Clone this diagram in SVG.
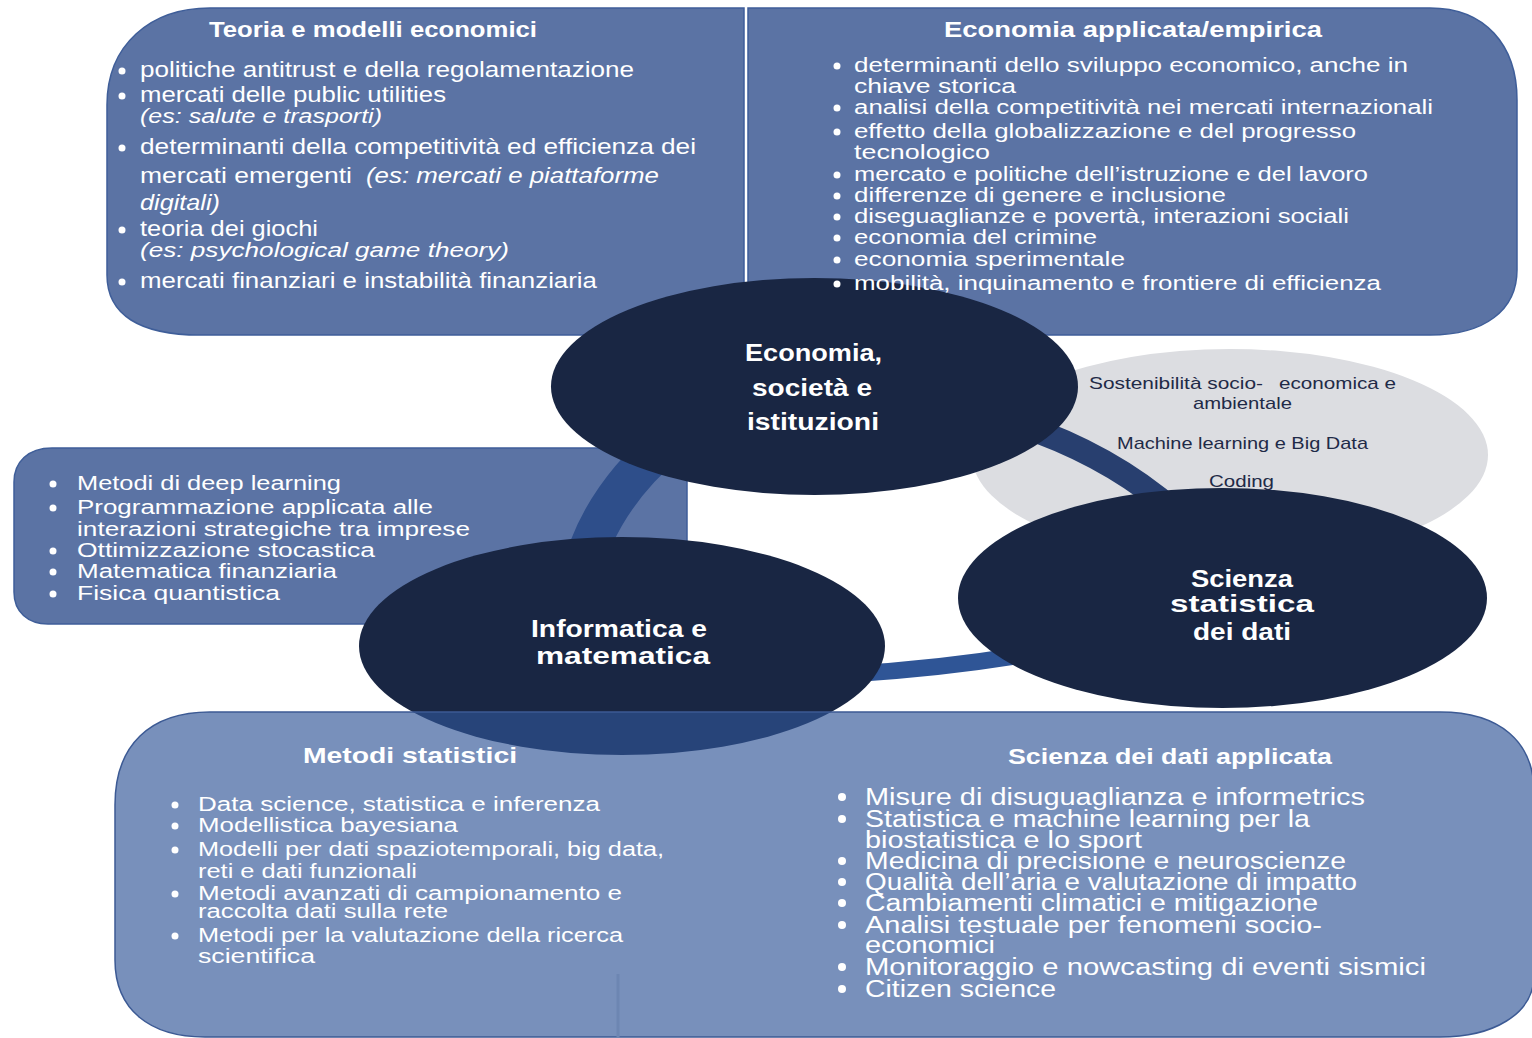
<svg xmlns="http://www.w3.org/2000/svg" width="1532" height="1038" viewBox="0 0 1532 1038">
<style>
.panel{fill:#5B73A4;stroke:#3F5E99;stroke-width:1.5}
.panel2{fill:#2F5597;fill-opacity:0.65;stroke:#3C5A94;stroke-width:1.5}
.node{fill:#192643}
.t{font-family:"Liberation Sans",Arial,sans-serif;fill:#ffffff;font-size:22px}
.s{font-size:20px}
.tb{font-size:23px}
.h{font-weight:bold;font-size:22px}
.i{font-style:italic}
.n{font-family:"Liberation Sans",Arial,sans-serif;font-weight:bold;fill:#ffffff;font-size:24px}
.g{font-family:"Liberation Sans",Arial,sans-serif;fill:#1F2A47;font-size:17px}
.dot{fill:#ffffff}
.ring{fill:none;stroke-linecap:butt}
</style>

<!-- panel backgrounds -->
<g id="panel-shapes">
  <path id="shape-teoria" class="panel" d="M 744 8 L 210 8 C 150 8 107 45 107 105 L 107 275 C 107 315 140 335 200 335 L 744 335 Z"/>
  <path id="shape-applicata" class="panel" d="M 748 8 L 1430 8 C 1485 8 1517 45 1517 100 L 1517 270 C 1517 310 1485 335 1430 335 L 748 335 Z"/>
  <path id="shape-informatica-list" class="panel" d="M 687 448 L 52 448 C 28 448 14 462 14 482 L 14 592 C 14 612 28 624 48 624 L 687 624 Z"/>
  <ellipse id="shape-grey" cx="1230" cy="455" rx="258" ry="106" fill="#DCDDE1"/>
</g>

<!-- connectors (ring) -->
<g id="connectors">
  <path class="ring" d="M 580 578 Q 598 500 670 440" stroke="#2E4E8A" stroke-width="40"/>
  <path class="ring" d="M 1020 425 Q 1110 455 1175 512" stroke="#283F6F" stroke-width="24"/>
  <path class="ring" d="M 850 674 Q 950 668 1040 652" stroke="#2F5596" stroke-width="17"/>
</g>

<!-- ellipse nodes -->
<g id="node-economia">
  <ellipse class="node" cx="814.5" cy="386.5" rx="263.5" ry="108.5"/>
  <text class="n" x="745" y="361" textLength="137" lengthAdjust="spacingAndGlyphs">Economia,</text>
  <text class="n" x="752" y="396" textLength="120" lengthAdjust="spacingAndGlyphs">società e</text>
  <text class="n" x="747" y="430" textLength="132" lengthAdjust="spacingAndGlyphs">istituzioni</text>
</g>
<g id="node-informatica">
  <ellipse class="node" cx="622" cy="646" rx="263" ry="109"/>
  <text class="n" x="531" y="637" textLength="176" lengthAdjust="spacingAndGlyphs">Informatica e</text>
  <text class="n" x="536" y="664" textLength="174" lengthAdjust="spacingAndGlyphs">matematica</text>
</g>
<g id="node-scienza">
  <ellipse class="node" cx="1222.5" cy="598" rx="264.5" ry="110"/>
  <text class="n" x="1191" y="587" textLength="102" lengthAdjust="spacingAndGlyphs">Scienza</text>
  <text class="n" x="1170" y="612" textLength="144" lengthAdjust="spacingAndGlyphs">statistica</text>
  <text class="n" x="1193" y="640" textLength="98" lengthAdjust="spacingAndGlyphs">dei dati</text>
</g>

<!-- bottom panel (semi-transparent, over the Informatica ellipse) -->
<g id="panel-bottom-shape">
  <path class="panel2" d="M 210 712 L 1440 712 C 1500 712 1534 742 1534 792 L 1534 975 C 1534 1015 1492 1037 1440 1037 L 205 1037 C 150 1037 115 1010 115 960 L 115 805 C 115 745 150 712 210 712 Z"/>
  <line x1="618" y1="974" x2="618" y2="1038" stroke="#6D86B2" stroke-width="3"/>
</g>

<!-- grey node texts -->
<g id="node-competenze">
  <text class="g" y="389"><tspan x="1089" textLength="174" lengthAdjust="spacingAndGlyphs">Sostenibilità socio-</tspan><tspan x="1279" textLength="117" lengthAdjust="spacingAndGlyphs">economica e</tspan></text>
  <text class="g" x="1193" y="409" textLength="99" lengthAdjust="spacingAndGlyphs">ambientale</text>
  <text class="g" x="1117" y="449" textLength="251" lengthAdjust="spacingAndGlyphs">Machine learning e Big Data</text>
  <text class="g" x="1209" y="487" textLength="65" lengthAdjust="spacingAndGlyphs">Coding</text>
</g>

<!-- panel texts -->
<g id="panel-teoria">
  <text class="t h" x="209" y="37" textLength="328" lengthAdjust="spacingAndGlyphs">Teoria e modelli economici</text>
  <circle class="dot" cx="122" cy="71" r="3.5"/>
  <circle class="dot" cx="122" cy="96" r="3.5"/>
  <circle class="dot" cx="122" cy="148" r="3.5"/>
  <circle class="dot" cx="122" cy="230" r="3.5"/>
  <circle class="dot" cx="122" cy="282" r="3.5"/>
  <text class="t" x="140" y="77" textLength="494" lengthAdjust="spacingAndGlyphs">politiche antitrust e della regolamentazione</text>
  <text class="t" x="140" y="102" textLength="306" lengthAdjust="spacingAndGlyphs">mercati delle public utilities</text>
  <text class="t i s" x="140" y="123" textLength="242" lengthAdjust="spacingAndGlyphs">(es: salute e trasporti)</text>
  <text class="t" x="140" y="154" textLength="556" lengthAdjust="spacingAndGlyphs">determinanti della competitività ed efficienza dei</text>
  <text class="t" y="183"><tspan x="140" textLength="212" lengthAdjust="spacingAndGlyphs">mercati emergenti</tspan><tspan class="i" x="366" textLength="293" lengthAdjust="spacingAndGlyphs">(es: mercati e piattaforme</tspan></text>
  <text class="t i" x="140" y="210" textLength="80" lengthAdjust="spacingAndGlyphs">digitali)</text>
  <text class="t" x="140" y="236" textLength="178" lengthAdjust="spacingAndGlyphs">teoria dei giochi</text>
  <text class="t i s" x="140" y="257" textLength="369" lengthAdjust="spacingAndGlyphs">(es: psychological game theory)</text>
  <text class="t" x="140" y="288" textLength="457" lengthAdjust="spacingAndGlyphs">mercati finanziari e instabilità finanziaria</text>
</g>

<g id="panel-applicata">
  <text class="t h" x="944" y="37" textLength="378" lengthAdjust="spacingAndGlyphs">Economia applicata/empirica</text>
  <circle class="dot" cx="837" cy="66" r="3.5"/>
  <circle class="dot" cx="837" cy="108" r="3.5"/>
  <circle class="dot" cx="837" cy="132" r="3.5"/>
  <circle class="dot" cx="837" cy="175" r="3.5"/>
  <circle class="dot" cx="837" cy="196" r="3.5"/>
  <circle class="dot" cx="837" cy="217" r="3.5"/>
  <circle class="dot" cx="837" cy="238" r="3.5"/>
  <circle class="dot" cx="837" cy="260" r="3.5"/>
  <circle class="dot" cx="837" cy="284" r="3.5"/>
  <text class="t s" x="854" y="72" textLength="554" lengthAdjust="spacingAndGlyphs">determinanti dello sviluppo economico, anche in</text>
  <text class="t s" x="854" y="93" textLength="162" lengthAdjust="spacingAndGlyphs">chiave storica</text>
  <text class="t s" x="854" y="114" textLength="579" lengthAdjust="spacingAndGlyphs">analisi della competitività nei mercati internazionali</text>
  <text class="t s" x="854" y="138" textLength="502" lengthAdjust="spacingAndGlyphs">effetto della globalizzazione e del progresso</text>
  <text class="t s" x="854" y="159" textLength="136" lengthAdjust="spacingAndGlyphs">tecnologico</text>
  <text class="t s" x="854" y="181" textLength="514" lengthAdjust="spacingAndGlyphs">mercato e politiche dell’istruzione e del lavoro</text>
  <text class="t s" x="854" y="202" textLength="372" lengthAdjust="spacingAndGlyphs">differenze di genere e inclusione</text>
  <text class="t s" x="854" y="223" textLength="495" lengthAdjust="spacingAndGlyphs">diseguaglianze e povertà, interazioni sociali</text>
  <text class="t s" x="854" y="244" textLength="243" lengthAdjust="spacingAndGlyphs">economia del crimine</text>
  <text class="t s" x="854" y="266" textLength="271" lengthAdjust="spacingAndGlyphs">economia sperimentale</text>
  <text class="t s" x="854" y="290" textLength="527" lengthAdjust="spacingAndGlyphs">mobilità, inquinamento e frontiere di efficienza</text>
</g>

<g id="panel-informatica">
  <circle class="dot" cx="53" cy="484" r="3.5"/>
  <circle class="dot" cx="53" cy="508" r="3.5"/>
  <circle class="dot" cx="53" cy="551" r="3.5"/>
  <circle class="dot" cx="53" cy="572" r="3.5"/>
  <circle class="dot" cx="53" cy="594" r="3.5"/>
  <text class="t s" x="77" y="490" textLength="264" lengthAdjust="spacingAndGlyphs">Metodi di deep learning</text>
  <text class="t s" x="77" y="514" textLength="356" lengthAdjust="spacingAndGlyphs">Programmazione applicata alle</text>
  <text class="t s" x="77" y="536" textLength="393" lengthAdjust="spacingAndGlyphs">interazioni strategiche tra imprese</text>
  <text class="t s" x="77" y="557" textLength="298" lengthAdjust="spacingAndGlyphs">Ottimizzazione stocastica</text>
  <text class="t s" x="77" y="578" textLength="260" lengthAdjust="spacingAndGlyphs">Matematica finanziaria</text>
  <text class="t s" x="77" y="600" textLength="203" lengthAdjust="spacingAndGlyphs">Fisica quantistica</text>
</g>

<g id="panel-metodi">
  <text class="t h" x="303" y="763" textLength="214" lengthAdjust="spacingAndGlyphs">Metodi statistici</text>
  <circle class="dot" cx="175" cy="805" r="3.5"/>
  <circle class="dot" cx="175" cy="826" r="3.5"/>
  <circle class="dot" cx="175" cy="850" r="3.5"/>
  <circle class="dot" cx="175" cy="894" r="3.5"/>
  <circle class="dot" cx="175" cy="936" r="3.5"/>
  <text class="t s" x="198" y="811" textLength="402" lengthAdjust="spacingAndGlyphs">Data science, statistica e inferenza</text>
  <text class="t s" x="198" y="832" textLength="260" lengthAdjust="spacingAndGlyphs">Modellistica bayesiana</text>
  <text class="t s" x="198" y="856" textLength="466" lengthAdjust="spacingAndGlyphs">Modelli per dati spaziotemporali, big data,</text>
  <text class="t s" x="198" y="878" textLength="219" lengthAdjust="spacingAndGlyphs">reti e dati funzionali</text>
  <text class="t s" x="198" y="900" textLength="424" lengthAdjust="spacingAndGlyphs">Metodi avanzati di campionamento e</text>
  <text class="t s" x="198" y="918" textLength="250" lengthAdjust="spacingAndGlyphs">raccolta dati sulla rete</text>
  <text class="t s" x="198" y="942" textLength="425" lengthAdjust="spacingAndGlyphs">Metodi per la valutazione della ricerca</text>
  <text class="t s" x="198" y="963" textLength="117" lengthAdjust="spacingAndGlyphs">scientifica</text>
</g>

<g id="panel-scienza-applicata">
  <text class="t h" x="1008" y="764" textLength="324" lengthAdjust="spacingAndGlyphs">Scienza dei dati applicata</text>
  <circle class="dot" cx="842" cy="797" r="4"/>
  <circle class="dot" cx="842" cy="819" r="4"/>
  <circle class="dot" cx="842" cy="861" r="4"/>
  <circle class="dot" cx="842" cy="882" r="4"/>
  <circle class="dot" cx="842" cy="903" r="4"/>
  <circle class="dot" cx="842" cy="925" r="4"/>
  <circle class="dot" cx="842" cy="967" r="4"/>
  <circle class="dot" cx="842" cy="989" r="4"/>
  <text class="t tb" x="865" y="805" textLength="500" lengthAdjust="spacingAndGlyphs">Misure di disuguaglianza e informetrics</text>
  <text class="t tb" x="865" y="827" textLength="445" lengthAdjust="spacingAndGlyphs">Statistica e machine learning per la</text>
  <text class="t tb" x="865" y="848" textLength="277" lengthAdjust="spacingAndGlyphs">biostatistica e lo sport</text>
  <text class="t tb" x="865" y="869" textLength="481" lengthAdjust="spacingAndGlyphs">Medicina di precisione e neuroscienze</text>
  <text class="t tb" x="865" y="890" textLength="492" lengthAdjust="spacingAndGlyphs">Qualità dell’aria e valutazione di impatto</text>
  <text class="t tb" x="865" y="911" textLength="453" lengthAdjust="spacingAndGlyphs">Cambiamenti climatici e mitigazione</text>
  <text class="t tb" x="865" y="933" textLength="457" lengthAdjust="spacingAndGlyphs">Analisi testuale per fenomeni socio-</text>
  <text class="t tb" x="865" y="953" textLength="130" lengthAdjust="spacingAndGlyphs">economici</text>
  <text class="t tb" x="865" y="975" textLength="561" lengthAdjust="spacingAndGlyphs">Monitoraggio e nowcasting di eventi sismici</text>
  <text class="t tb" x="865" y="997" textLength="191" lengthAdjust="spacingAndGlyphs">Citizen science</text>
</g>
</svg>
